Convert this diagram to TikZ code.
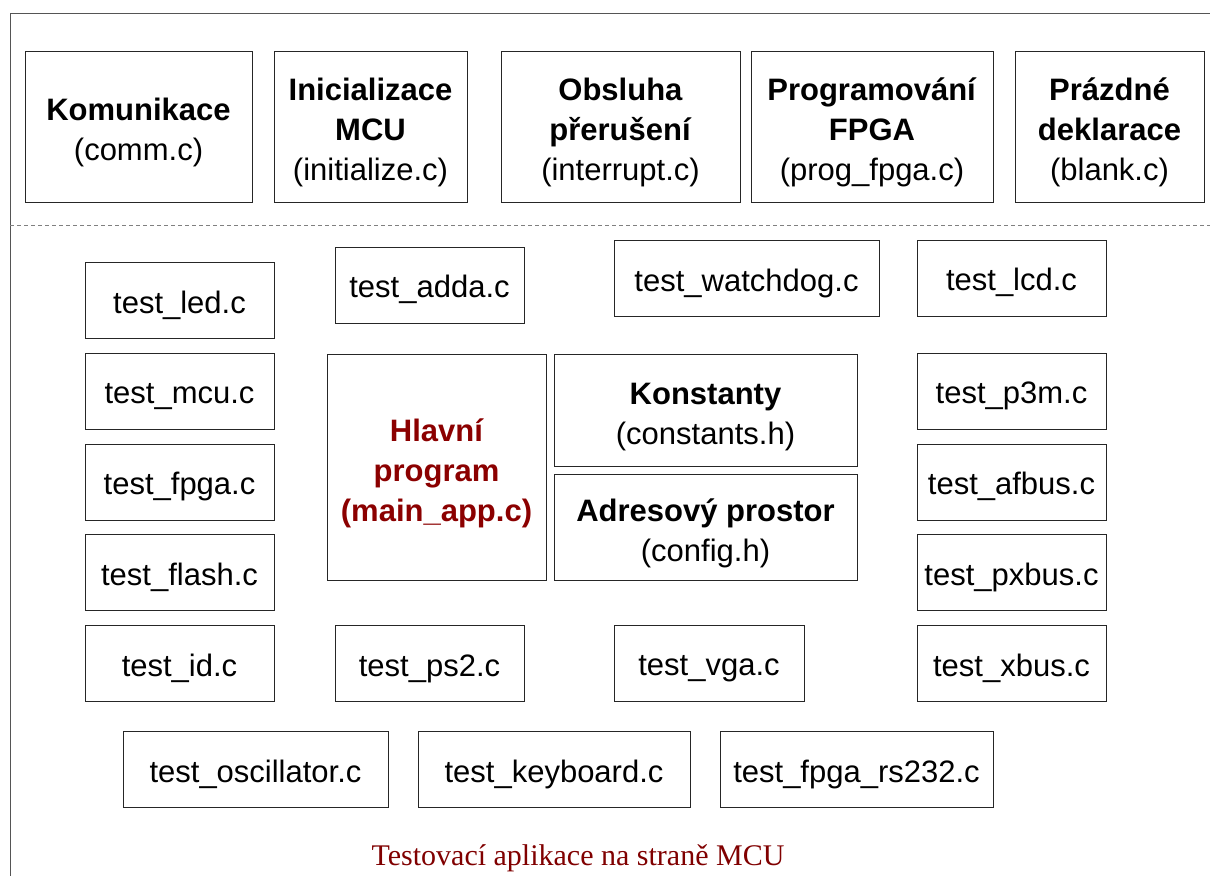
\documentclass[tikz,border=0pt]{standalone}
\usepackage{fontspec}
\setmainfont{Liberation Sans}
\newfontfamily\captionserif{Liberation Serif}
\definecolor{mainred}{HTML}{8B0000}
\definecolor{capred}{HTML}{800000}
\definecolor{framegray}{HTML}{555555}
% extra room above the first text line of a box
\newcommand{\topstrut}{\rule{0pt}{35pt}}
\begin{document}
\begin{tikzpicture}[x=1pt,y=-1pt,
  filebox/.style={draw=black!85, line width=1pt, inner sep=0pt, align=center,
    font=\fontsize{31}{40}\selectfont},
  testbox/.style={filebox, minimum width=189pt, minimum height=76pt,
    execute at begin node={\rule{0pt}{32pt}}},
  frameline/.style={draw=framegray, line width=1pt},
  sepline/.style={draw=gray, line width=0.9pt, dash pattern=on 4pt off 3pt}]
\useasboundingbox (0,0) rectangle (1210,876);

% outer frame and separator between library modules and test modules
\coordinate (ftr) at (1210,13);
\coordinate (ftl) at (10,13);
\coordinate (fbl) at (10,876);
\coordinate (sl) at (10,225);
\coordinate (sr) at (1210,225);
\draw[frameline] (ftr) -- (ftl) -- (fbl);
\draw[sepline] (sl) -- (sr);

% library modules
\node[filebox, minimum width=227pt, minimum height=151pt] (comm) at (138.5,126.5)
  {\topstrut\textbf{Komunikace}\\(comm.c)};
\node[filebox, minimum width=193pt, minimum height=151pt] (init) at (370.5,126.5)
  {\topstrut\textbf{Inicializace}\\\textbf{MCU}\\(initialize.c)};
\node[filebox, minimum width=239pt, minimum height=151pt] (intr) at (620.5,126.5)
  {\topstrut\textbf{Obsluha}\\\textbf{přerušení}\\(interrupt.c)};
\node[filebox, minimum width=242pt, minimum height=151pt] (prog) at (872,126.5)
  {\topstrut\textbf{Programování}\\\textbf{FPGA}\\(prog\_fpga.c)};
\node[filebox, minimum width=189pt, minimum height=151pt] (blank) at (1109.5,126.5)
  {\topstrut\textbf{Prázdné}\\\textbf{deklarace}\\(blank.c)};

% left column of tests
\node[testbox] (led)   at (179.5,300.5) {test\_led.c};
\node[testbox] (mcu)   at (179.5,391)   {test\_mcu.c};
\node[testbox] (fpga)  at (179.5,482)   {test\_fpga.c};
\node[testbox] (flash) at (179.5,572.5) {test\_flash.c};
\node[testbox] (id)    at (179.5,663.5) {test\_id.c};

% right column of tests
\node[testbox] (lcd)   at (1011.5,278)   {test\_lcd.c};
\node[testbox] (p3m)   at (1011.5,391)   {test\_p3m.c};
\node[testbox] (afbus) at (1011.5,482)   {test\_afbus.c};
\node[testbox] (pxbus) at (1011.5,572.5) {test\_pxbus.c};
\node[testbox] (xbus)  at (1011.5,663.5) {test\_xbus.c};

% tests above and below the core
\node[testbox] (adda) at (429.5,285) {test\_adda.c};
\node[testbox, minimum width=265pt] (watchdog) at (746.5,278.5) {test\_watchdog.c};
\node[testbox] (ps2) at (429.5,663.5) {test\_ps2.c};
\node[testbox, minimum width=190pt] (vga) at (709,663) {test\_vga.c};

% bottom row of tests
\node[testbox, minimum width=265pt] (osc) at (255.5,769.5) {test\_oscillator.c};
\node[testbox, minimum width=272pt] (keyb) at (554,769.5) {test\_keyboard.c};
\node[testbox, minimum width=273pt] (rs232) at (856.5,769.5) {test\_fpga\_rs232.c};

% core of the application
\node[filebox, minimum width=219pt, minimum height=226pt, text=mainred,
  font=\fontsize{31}{40}\selectfont\bfseries] (main) at (436.5,467)
  {\topstrut Hlavní\\program\\(main\_app.c)};
\node[filebox, minimum width=303pt, minimum height=112pt] (const) at (705.5,410)
  {\topstrut\textbf{Konstanty}\\(constants.h)};
\node[filebox, minimum width=303pt, minimum height=106pt] (config) at (705.5,527)
  {\topstrut\textbf{Adresový prostor}\\(config.h)};

% caption
\node[anchor=base, inner sep=0pt, text=capred,
  font=\captionserif\fontsize{30}{34}\selectfont] (caption) at (578,865)
  {Testovací aplikace na straně MCU};
\end{tikzpicture}
\end{document}
